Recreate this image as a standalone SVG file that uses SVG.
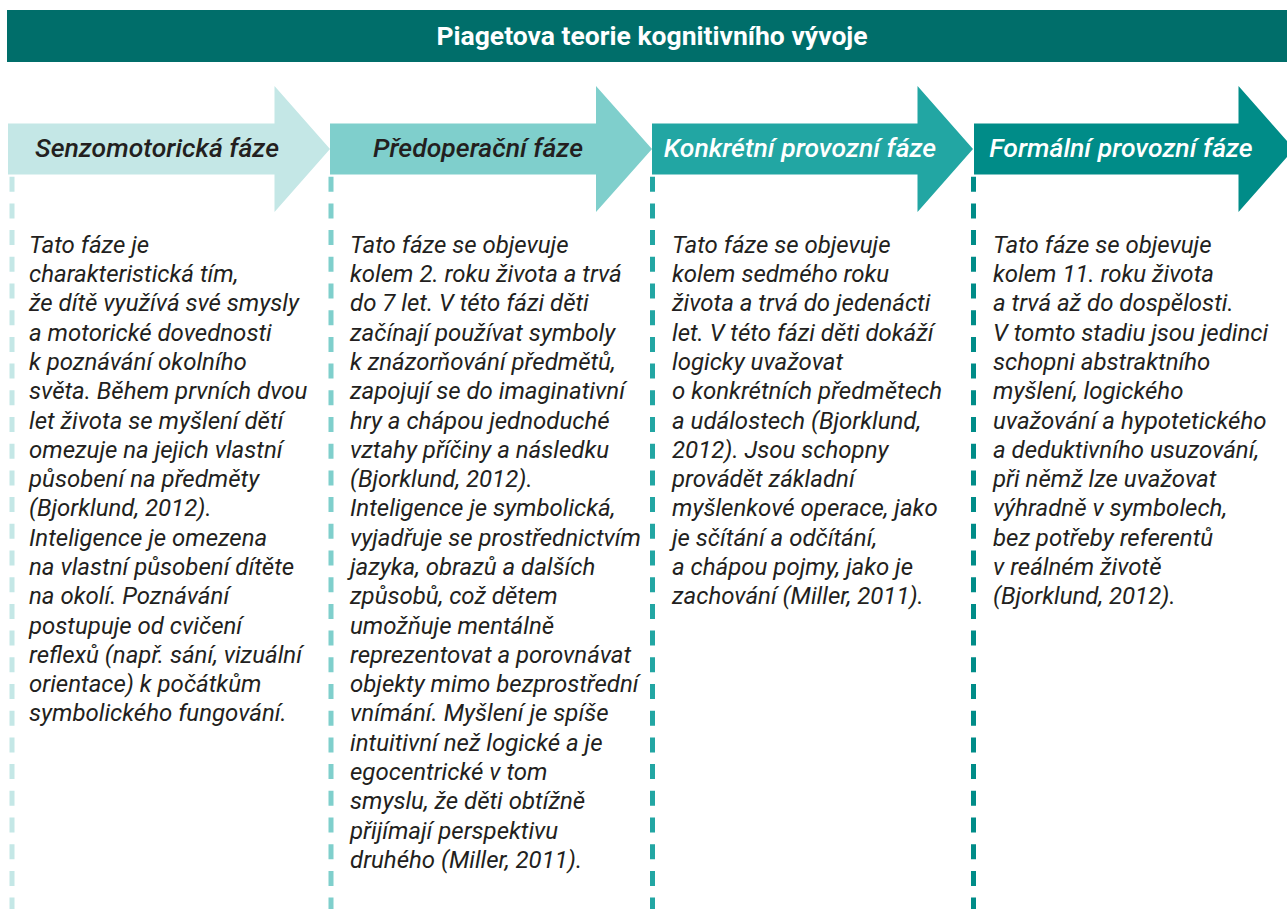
<svg xmlns="http://www.w3.org/2000/svg" width="1287" height="909" viewBox="0 0 1287 909">
<style>
.title{font-family:Roboto,"Liberation Sans",sans-serif;font-weight:700;font-size:26.5px;fill:#ffffff}
.lab{font-family:Roboto,"Liberation Sans",sans-serif;font-style:italic;font-weight:500;font-size:26.6px}
.body{font-family:Roboto,"Liberation Sans",sans-serif;font-style:italic;font-size:24px;fill:#231f20}
.dash{stroke-width:5;stroke-dasharray:15 11.7;fill:none}
</style>
<rect width="1287" height="909" fill="#ffffff"/>
<g id="header">
<rect x="7" y="10" width="1290" height="52" fill="#006e6a"/>
<text class="title" x="652" y="45" text-anchor="middle">Piagetova teorie kognitivního vývoje</text>
</g>
<g id="connectors">
<line class="dash" x1="12" y1="176.7" x2="12" y2="909" stroke="#c4e7e6"/>
<line class="dash" x1="331" y1="176.7" x2="331" y2="909" stroke="#7fcfcc"/>
<line class="dash" x1="652.5" y1="176.7" x2="652.5" y2="909" stroke="#22a6a3"/>
<line class="dash" x1="973.5" y1="176.7" x2="973.5" y2="909" stroke="#008c88"/>
</g>
<g id="phase1">
<polygon points="8,123.5 274.5,123.5 274.5,86 330,149 274.5,212 274.5,174.5 8,174.5" fill="#c4e7e6"/>
<text class="lab" x="157" y="157" text-anchor="middle" fill="#231f20">Senzomotorická fáze</text>
<text class="body" x="29">
<tspan x="29" y="252.7">Tato fáze je</tspan>
<tspan x="29" dy="29.3">charakteristická tím,</tspan>
<tspan x="29" dy="29.3">že dítě využívá své smysly</tspan>
<tspan x="29" dy="29.3">a motorické dovednosti</tspan>
<tspan x="29" dy="29.3">k poznávání okolního</tspan>
<tspan x="29" dy="29.3">světa. Během prvních dvou</tspan>
<tspan x="29" dy="29.3">let života se myšlení dětí</tspan>
<tspan x="29" dy="29.3">omezuje na jejich vlastní</tspan>
<tspan x="29" dy="29.3">působení na předměty</tspan>
<tspan x="29" dy="29.3">(Bjorklund, 2012).</tspan>
<tspan x="29" dy="29.3">Inteligence je omezena</tspan>
<tspan x="29" dy="29.3">na vlastní působení dítěte</tspan>
<tspan x="29" dy="29.3">na okolí. Poznávání</tspan>
<tspan x="29" dy="29.3">postupuje od cvičení</tspan>
<tspan x="29" dy="29.3">reflexů (např. sání, vizuální</tspan>
<tspan x="29" dy="29.3">orientace) k počátkům</tspan>
<tspan x="29" dy="29.3">symbolického fungování.</tspan>
</text>
</g>
<g id="phase2">
<polygon points="330,123.5 596,123.5 596,86 652,149 596,212 596,174.5 330,174.5" fill="#7fcfcc"/>
<text class="lab" x="478" y="157" text-anchor="middle" fill="#231f20">Předoperační fáze</text>
<text class="body" x="350">
<tspan x="350" y="252.7">Tato fáze se objevuje</tspan>
<tspan x="350" dy="29.3">kolem 2. roku života a trvá</tspan>
<tspan x="350" dy="29.3">do 7 let. V této fázi děti</tspan>
<tspan x="350" dy="29.3">začínají používat symboly</tspan>
<tspan x="350" dy="29.3">k znázorňování předmětů,</tspan>
<tspan x="350" dy="29.3">zapojují se do imaginativní</tspan>
<tspan x="350" dy="29.3">hry a chápou jednoduché</tspan>
<tspan x="350" dy="29.3">vztahy příčiny a následku</tspan>
<tspan x="350" dy="29.3">(Bjorklund, 2012).</tspan>
<tspan x="350" dy="29.3">Inteligence je symbolická,</tspan>
<tspan x="350" dy="29.3">vyjadřuje se prostřednictvím</tspan>
<tspan x="350" dy="29.3">jazyka, obrazů a dalších</tspan>
<tspan x="350" dy="29.3">způsobů, což dětem</tspan>
<tspan x="350" dy="29.3">umožňuje mentálně</tspan>
<tspan x="350" dy="29.3">reprezentovat a porovnávat</tspan>
<tspan x="350" dy="29.3">objekty mimo bezprostřední</tspan>
<tspan x="350" dy="29.3">vnímání. Myšlení je spíše</tspan>
<tspan x="350" dy="29.3">intuitivní než logické a je</tspan>
<tspan x="350" dy="29.3">egocentrické v tom</tspan>
<tspan x="350" dy="29.3">smyslu, že děti obtížně</tspan>
<tspan x="350" dy="29.3">přijímají perspektivu</tspan>
<tspan x="350" dy="29.3">druhého (Miller, 2011).</tspan>
</text>
</g>
<g id="phase3">
<polygon points="652,123.5 917.5,123.5 917.5,86 973,149 917.5,212 917.5,174.5 652,174.5" fill="#22a6a3"/>
<text class="lab" x="800" y="157" text-anchor="middle" fill="#ffffff">Konkrétní provozní fáze</text>
<text class="body" x="672">
<tspan x="672" y="252.7">Tato fáze se objevuje</tspan>
<tspan x="672" dy="29.3">kolem sedmého roku</tspan>
<tspan x="672" dy="29.3">života a trvá do jedenácti</tspan>
<tspan x="672" dy="29.3">let. V této fázi děti dokáží</tspan>
<tspan x="672" dy="29.3">logicky uvažovat</tspan>
<tspan x="672" dy="29.3">o konkrétních předmětech</tspan>
<tspan x="672" dy="29.3">a událostech (Bjorklund,</tspan>
<tspan x="672" dy="29.3">2012). Jsou schopny</tspan>
<tspan x="672" dy="29.3">provádět základní</tspan>
<tspan x="672" dy="29.3">myšlenkové operace, jako</tspan>
<tspan x="672" dy="29.3">je sčítání a odčítání,</tspan>
<tspan x="672" dy="29.3">a chápou pojmy, jako je</tspan>
<tspan x="672" dy="29.3">zachování (Miller, 2011).</tspan>
</text>
</g>
<g id="phase4">
<polygon points="974,123.5 1238.5,123.5 1238.5,86 1294,149 1238.5,212 1238.5,174.5 974,174.5" fill="#008c88"/>
<text class="lab" x="1121" y="157" text-anchor="middle" fill="#ffffff">Formální provozní fáze</text>
<text class="body" x="993">
<tspan x="993" y="252.7">Tato fáze se objevuje</tspan>
<tspan x="993" dy="29.3">kolem 11. roku života</tspan>
<tspan x="993" dy="29.3">a trvá až do dospělosti.</tspan>
<tspan x="993" dy="29.3">V tomto stadiu jsou jedinci</tspan>
<tspan x="993" dy="29.3">schopni abstraktního</tspan>
<tspan x="993" dy="29.3">myšlení, logického</tspan>
<tspan x="993" dy="29.3">uvažování a hypotetického</tspan>
<tspan x="993" dy="29.3">a deduktivního usuzování,</tspan>
<tspan x="993" dy="29.3">při němž lze uvažovat</tspan>
<tspan x="993" dy="29.3">výhradně v symbolech,</tspan>
<tspan x="993" dy="29.3">bez potřeby referentů</tspan>
<tspan x="993" dy="29.3">v reálném životě</tspan>
<tspan x="993" dy="29.3">(Bjorklund, 2012).</tspan>
</text>
</g>
</svg>
